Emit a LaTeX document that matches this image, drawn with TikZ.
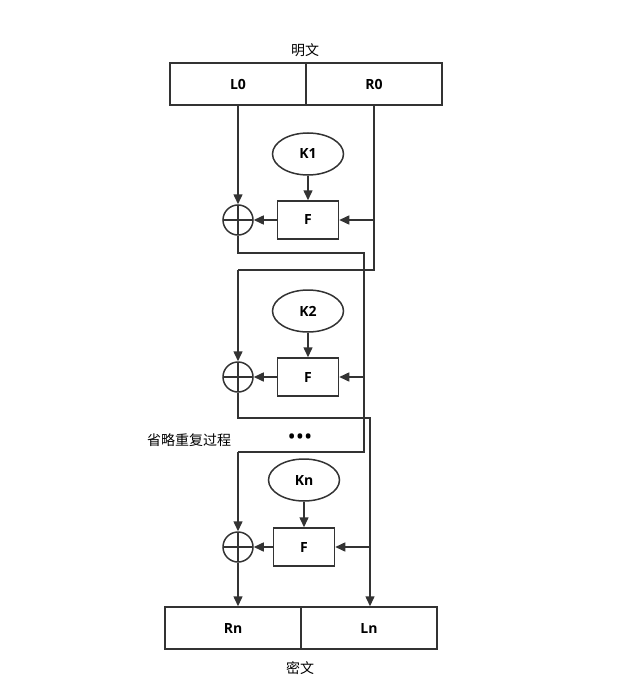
\documentclass[tikz,border=0pt]{standalone}
\usepackage{fontspec}
\setmainfont{Open Sans}
\newfontfamily\cjk{Noto Sans CJK SC}
\usetikzlibrary{positioning,arrows.meta,calc,shapes.geometric}

\begin{document}
\begin{tikzpicture}[
  x=1pt,y=-1pt,
  every node/.style={font=\fontsize{14}{16}\selectfont\bfseries},
  wire/.style={draw=black!80,line width=1.5pt},
  flow/.style={wire,-{Triangle[length=10pt,width=9pt]}},
  halfbox/.style={draw=black!80,line width=1.5pt,minimum width=136pt,minimum height=42pt,inner sep=0pt},
  fbox/.style={draw=black!80,line width=1.5pt,minimum width=61pt,minimum height=38pt,inner sep=0pt},
  keynode/.style={ellipse,draw=black!80,line width=1.5pt,minimum width=71pt,minimum height=42pt,inner sep=0pt},
  xor/.style={circle,draw=black!80,line width=1.5pt,minimum size=30pt,inner sep=0pt,
    path picture={\draw[black!80,line width=1.5pt]
      (path picture bounding box.north) -- (path picture bounding box.south)
      (path picture bounding box.west) -- (path picture bounding box.east);}},
  caption/.style={font=\cjk\fontsize{14}{16}\selectfont}
]
  \useasboundingbox (0,0) rectangle (629,698);

  % plaintext halves
  \node[halfbox] (L0) at (238,84) {L0};
  \node[halfbox] (R0) at (374,84) {R0};
  \node[caption] (plain) at (305,50) {明文};

  % round 1
  \node[keynode] (K1) at (308,154) {K1};
  \node[fbox] (F1) at (308,220) {F};
  \node[xor] (X1) at (238,220) {};

  % round 2
  \node[keynode] (K2) at (308,311) {K2};
  \node[fbox] (F2) at (308,377) {F};
  \node[xor] (X2) at (238,377) {};

  % skipped rounds
  \node[caption] (skip) at (189,440) {省略重复过程};
  \node[font=\fontsize{22}{24}\selectfont] (dots) at (300,439) {\textbullet\textbullet\textbullet};

  % round n
  \node[keynode] (Kn) at (304,480) {Kn};
  \node[fbox] (Fn) at (304,547) {F};
  \node[xor] (Xn) at (238,547) {};

  % ciphertext halves
  \node[halfbox] (Rn) at (233,628) {Rn};
  \node[halfbox] (Ln) at (369,628) {Ln};
  \node[caption] (cipher) at (300,668) {密文};

  % round 1 wiring
  \draw[flow] (L0.south -| X1) -- (X1.north);
  \coordinate (r0a) at (374,220);
  \draw[wire] (R0.south) -- (r0a);
  \draw[flow] (r0a) -- (F1.east);
  \draw[flow] (K1.south) -- (F1.north);
  \draw[flow] (F1.west) -- (X1.east);

  % cross-over 1
  \coordinate (c1a) at (238,253);
  \coordinate (c1b) at (364,253);
  \coordinate (r1a) at (364,377);
  \draw[wire] (X1.south) -- (c1a) -- (c1b) -- (r1a);
  \coordinate (c2a) at (374,270);
  \coordinate (c2b) at (238,270);
  \draw[wire] (r0a) -- (c2a) -- (c2b);
  \draw[flow] (c2b) -- (X2.north);

  % round 2 wiring
  \draw[flow] (r1a) -- (F2.east);
  \draw[flow] (K2.south) -- (F2.north);
  \draw[flow] (F2.west) -- (X2.east);

  % cross-over 2
  \coordinate (c3a) at (238,418);
  \coordinate (c3b) at (370,418);
  \coordinate (rna) at (370,547);
  \draw[wire] (X2.south) -- (c3a) -- (c3b) -- (rna);
  \coordinate (c4a) at (364,452);
  \coordinate (c4b) at (238,452);
  \draw[wire] (r1a) -- (c4a) -- (c4b);
  \draw[flow] (c4b) -- (Xn.north);

  % round n wiring
  \draw[flow] (rna) -- (Fn.east);
  \draw[flow] (Kn.south) -- (Fn.north);
  \draw[flow] (Fn.west) -- (Xn.east);

  % to ciphertext
  \draw[flow] (Xn.south) -- (Xn.south |- Rn.north);
  \draw[flow] (rna) -- (rna |- Ln.north);
\end{tikzpicture}
\end{document}
